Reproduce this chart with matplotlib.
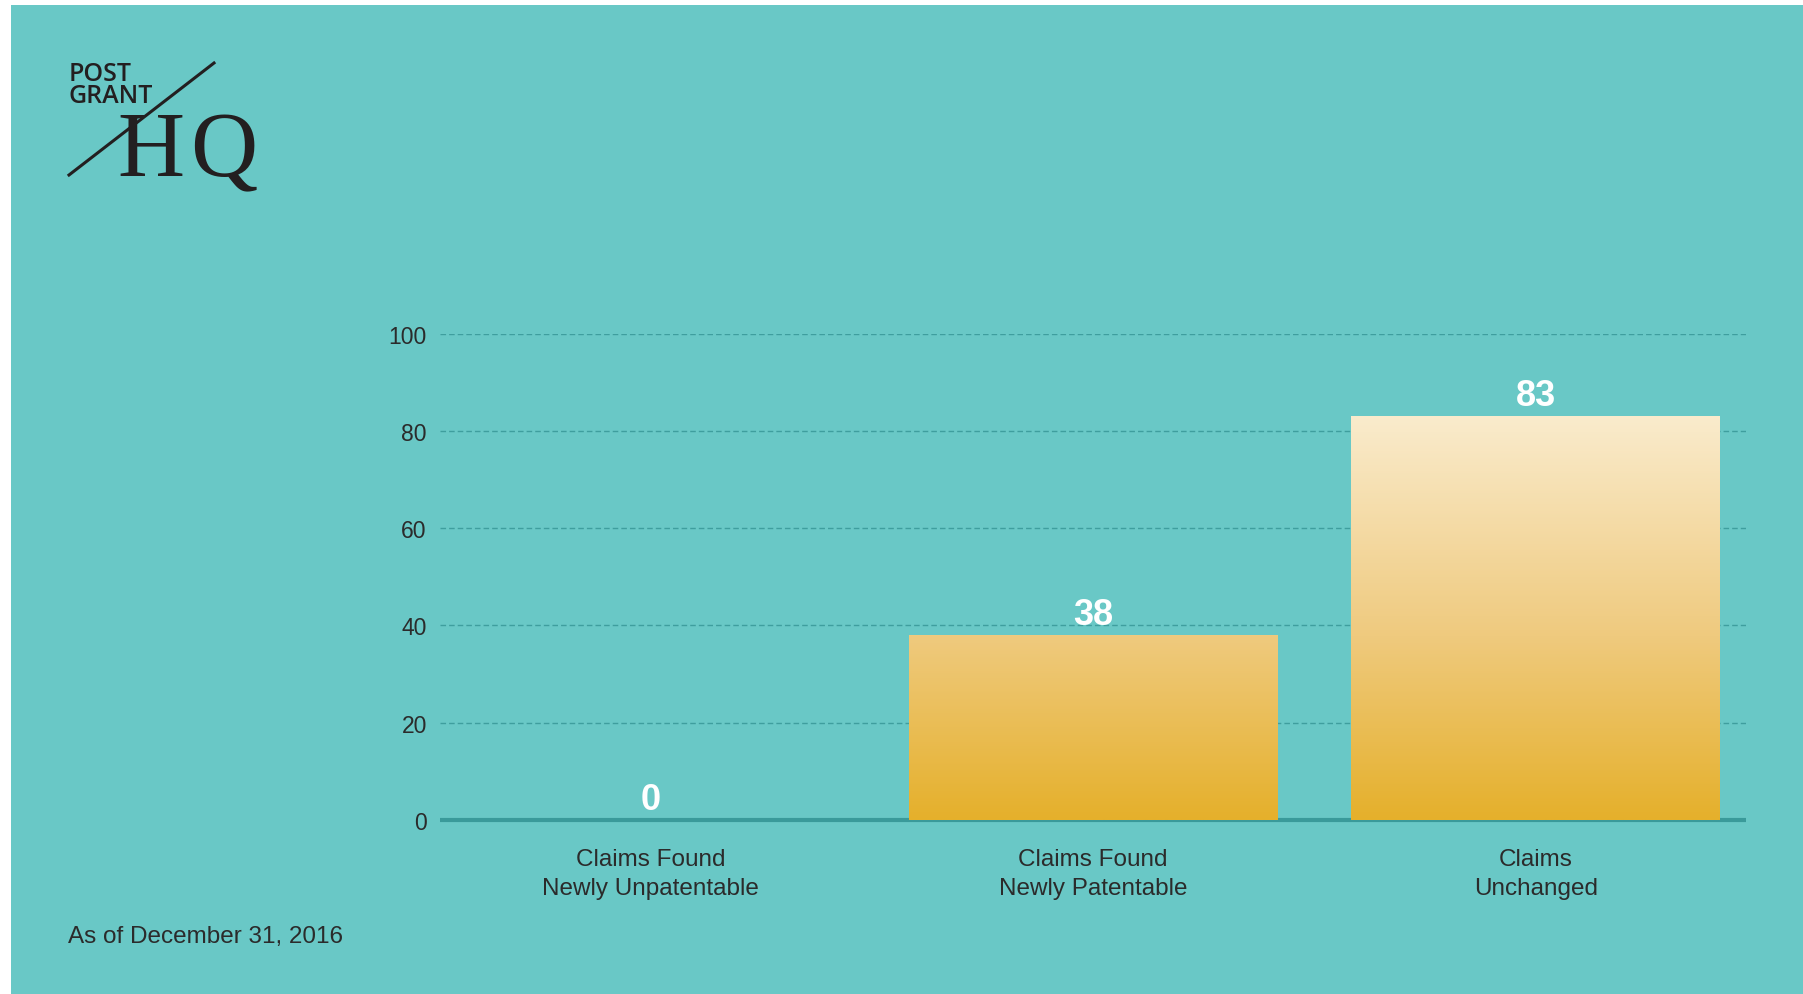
import numpy as np
import matplotlib
matplotlib.use("Agg")
import matplotlib.pyplot as plt
from matplotlib.colors import LinearSegmentedColormap
from matplotlib.patches import Rectangle
from matplotlib.lines import Line2D

# dane
kategorie = ['Claims Found\nNewly Unpatentable', 'Claims Found\nNewly Patentable', 'Claims\nUnchanged']
wartosci = [0, 38, 83]
y_ticks = [0, 20, 40, 60, 80, 100]
przypis = 'As of December 31, 2016'

teal = '#69c8c6'
ciemny_teal = '#3a9a9a'
tekst = '#2b2b2b'

W, H = 1803, 995
fig = plt.figure(figsize=(W / 100, H / 100), dpi=100, facecolor='white')

# tlo (biały margines z góry i z lewej)
fig.patches.append(Rectangle((11 / W, 0), 1 - 11 / W, 1 - 6 / H,
                             transform=fig.transFigure, facecolor=teal,
                             edgecolor='none', zorder=-10))

ax = fig.add_axes([440 / W, 1 - 821 / H, 1306 / W, 486.4 / H])
ax.set_zorder(1)
ax.patch.set_alpha(0)
for s in ax.spines.values():
    s.set_visible(False)

x = np.arange(len(kategorie))
szer = 0.833
slupki = ax.bar(x, wartosci, width=szer, color='none', zorder=2)

# gradient wg wartości (ten sam dla wszystkich słupków)
cmap = LinearSegmentedColormap.from_list(
    'zloty', [(0, '#e5b02b'), (0.45, '#efca7e'), (1, '#faecce')])
grad = np.linspace(0, 1, 256).reshape(-1, 1)
for b in slupki:
    if b.get_height() <= 0:
        continue
    im = ax.imshow(grad, extent=[b.get_x(), b.get_x() + b.get_width(), 0, 84],
                   origin='lower', aspect='auto', cmap=cmap, zorder=3)
    im.set_clip_path(b)

ax.axhline(0, color=ciemny_teal, linewidth=3, zorder=1.5, clip_on=False,
           solid_capstyle='butt')

ax.set_xlim(-0.475, 2.475)
ax.set_ylim(0, 100)
ax.set_yticks(y_ticks)
ax.set_xticks(x)
ax.set_xticklabels(kategorie, fontsize=17.5, color=tekst, family='Liberation Sans',
                   linespacing=1.42)
ax.set_yticklabels([str(t) for t in y_ticks], fontsize=16.5, color=tekst,
                   family='Liberation Sans')
ax.tick_params(axis='both', length=0)
ax.tick_params(axis='x', pad=20)
ax.tick_params(axis='y', pad=9.5)
ax.set_axisbelow(True)
ax.yaxis.grid(True, linestyle=(0, (4, 2.2)), color='#3f9e9e', linewidth=1.0)

for xi, v in zip(x, wartosci):
    ax.annotate(str(v), (xi, v), xytext=(0, 8), textcoords='offset points',
                ha='center', va='baseline', fontsize=26, fontweight='bold',
                color='white', family='Liberation Sans', zorder=5)

# przypis
fig.text(68 / W, 1 - 943 / H, przypis, fontsize=17.5, color=tekst,
         family='Liberation Sans', va='baseline', ha='left')

# logo
logo = '#231f20'
fig.text(69 / W, 1 - 81 / H, 'POST', fontsize=18, fontweight='semibold', color=logo,
         family='Open Sans', va='baseline')
fig.text(69 / W, 1 - 103 / H, 'GRANT', fontsize=18, fontweight='semibold', color=logo,
         family='Open Sans', va='baseline')
fig.text(117 / W, 1 - 176 / H, 'H', fontsize=67, color=logo,
         family='Liberation Serif', va='baseline')
fig.text(190 / W, 1 - 176 / H, 'Q', fontsize=67, color=logo,
         family='Liberation Serif', va='baseline')
fig.lines.append(Line2D([69 / W, 214 / W], [1 - 176 / H, 1 - 64 / H],
                        transform=fig.transFigure, color=logo, linewidth=2.2))

fig.savefig('out.png', dpi=100, facecolor='white')
